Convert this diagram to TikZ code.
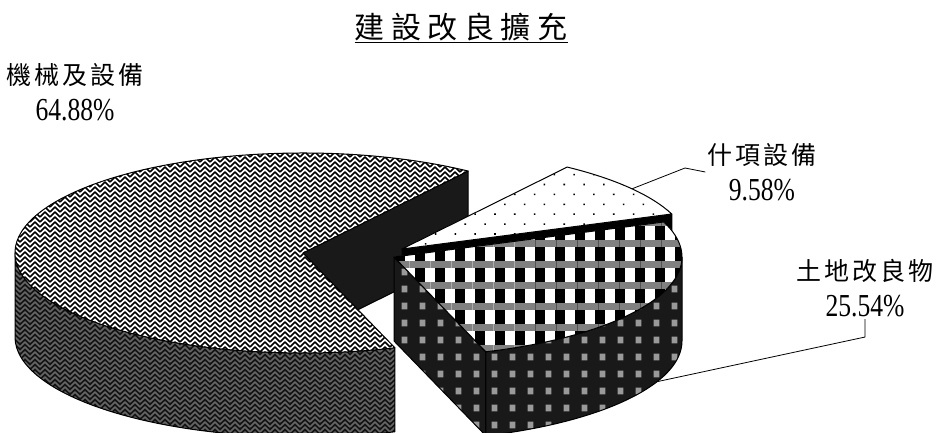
\documentclass[tikz,border=0pt]{standalone}
\usepackage{fontspec}
\newfontfamily\cjk[LetterSpace=12]{Noto Sans CJK TC}
\newfontfamily\cjktitle[LetterSpace=22]{Noto Sans CJK TC}
\newfontfamily\numfont[FakeStretch=0.8,Scale=1.28]{Liberation Serif}
\usetikzlibrary{calc,patterns,patterns.meta}

\pgfdeclarepatternformonly{weave}{\pgfqpoint{-1pt}{-1pt}}{\pgfqpoint{11pt}{11pt}}{\pgfqpoint{10pt}{10pt}}{
  \pgfsetlinewidth{1.7pt}
  \pgfpathmoveto{\pgfqpoint{0pt}{0pt}}\pgfpathlineto{\pgfqpoint{5pt}{5pt}}\pgfpathlineto{\pgfqpoint{10pt}{0pt}}
  \pgfpathmoveto{\pgfqpoint{0pt}{5pt}}\pgfpathlineto{\pgfqpoint{5pt}{10pt}}\pgfpathlineto{\pgfqpoint{10pt}{5pt}}
  \pgfusepath{stroke}}
\pgfdeclarepatternformonly{blocks}{\pgfpointorigin}{\pgfqpoint{18pt}{17pt}}{\pgfqpoint{18pt}{17pt}}{
  \pgfpathrectangle{\pgfqpoint{6pt}{5pt}}{\pgfqpoint{6pt}{7pt}}
  \pgfusepath{fill}}

\newcommand{\SliceTop}[4][]{\path[#1] (#2) -- ++(#3:288pt and 100pt) arc[start angle=#3, end angle=#4, x radius=288pt, y radius=100pt] -- cycle;}
\newcommand{\SliceSide}[4][]{\path[#1] ($(#2)+(#3:288pt and 100pt)$) arc[start angle=#3, end angle=#4, x radius=288pt, y radius=100pt] -- ++(0pt,-84pt) arc[start angle=#4, end angle=#3, x radius=288pt, y radius=100pt] -- cycle;}
\newcommand{\SliceCut}[3][]{\path[#1] (#2) -- ++(#3:288pt and 100pt) -- ++(0pt,-84pt) -- ($(#2)+(0pt,-84pt)$) -- cycle;}
\newcommand{\PieLabel}[2]{{\cjk #1}\\{\numfont #2}}

\tikzset{
  slice/.style={draw=black, line width=1pt, line join=round},
  bigtop/.style={slice, preaction={fill=white}, pattern=weave},
  bigside/.style={slice, preaction={fill=black!92}, pattern=weave, pattern color=black!60},
  bigcut/.style={slice, fill=black!90},
  dottop/.style={slice, preaction={fill=white}, pattern={Dots[distance=14pt, radius=1.1pt, angle=45]}},
  dotcut/.style={slice, fill=black},
  landtop/.style={slice, preaction={fill=white},
    preaction={pattern={Lines[angle=90, distance=20pt, line width=10pt]}, pattern color=black},
    pattern={Lines[distance=21pt, line width=7pt]}, pattern color=black!50},
  landside/.style={slice, preaction={fill=black!90}, pattern=blocks, pattern color=black!40},
  leader/.style={draw, line width=0.8pt},
  pielabel/.style={align=center, inner sep=2pt, font=\fontsize{25}{36}\selectfont}
}

\begin{document}
\begin{tikzpicture}[x=1pt, y=1pt]
\clip (0,0) rectangle (938,432);
\coordinate (B) at (303,179);
\coordinate (D) at (402,183);
\coordinate (L) at (394,175);

% machinery
\SliceCut[bigcut]{B}{55}
\SliceSide[bigside]{B}{180}{288.6}
\SliceTop[bigtop]{B}{55}{288.6}
% misc
\SliceCut[dotcut]{D}{20.5}
\SliceTop[dottop]{D}{20.5}{55}
% land
\SliceCut[landside]{L}{-71.4}
\SliceSide[landside]{L}{-71.4}{0}
\SliceTop[landtop]{L}{-71.4}{20.5}

\node[font=\fontsize{30}{36}\selectfont] (title) at (461,404) {\cjktitle\underline{建設改良擴充}};
\node[pielabel] (lblbig) at (75,340) {\PieLabel{機械及設備}{64.88\%}};
\node[pielabel] (lblmisc) at (762,260) {\PieLabel{什項設備}{9.58\%}};
\node[pielabel] (lblland) at (865,144) {\PieLabel{土地改良物}{25.54\%}};

\coordinate (p2) at ($(D)+(37:288pt and 100pt)$);
\coordinate (k2) at (685,264);
\draw[leader] (p2) -- (k2) -- (lblmisc.west);
\coordinate (p3) at ($(L)+(-24:288pt and 100pt)+(0,-84)$);
\draw[leader] (lblland.south) -- ++(0,-18) -- (p3);
\end{tikzpicture}
\end{document}
